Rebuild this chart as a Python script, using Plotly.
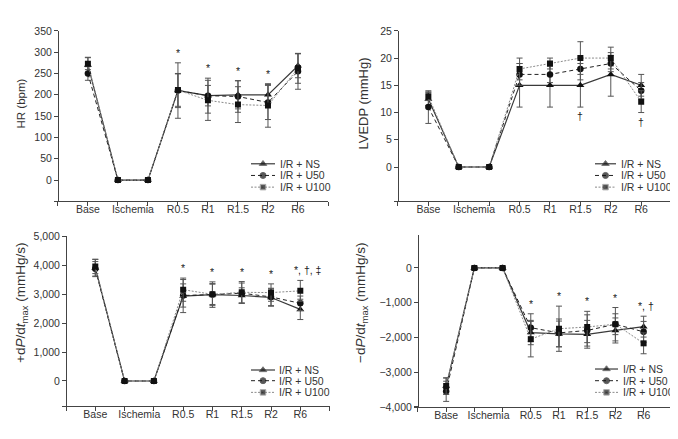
import plotly.graph_objects as go

# ---------------- data ----------------
phases = ["Base", "Ischemia", "Ischemia", "R0.5", "R1", "R1.5", "R2", "R6"]
groups = ["I/R + NS", "I/R + U50", "I/R + U100"]

hr_ns = [270, 0, 0, 210, 198, 200, 200, 268]
hr_ns_sd = [18, 0, 0, 40, 24, 33, 24, 28]
hr_u50 = [250, 0, 0, 210, 198, 196, 182, 255]
hr_u50_sd = [16, 0, 0, 65, 41, 37, 40, 42]
hr_u100 = [273, 0, 0, 211, 187, 177, 175, 262]
hr_u100_sd = [14, 0, 0, 38, 47, 42, 51, 35]
hr_sig = ["", "", "", "*", "*", "*", "*", ""]

lv_ns = [12.5, 0, 0, 15, 15, 15, 17, 15]
lv_ns_sd = [1.2, 0, 0, 4, 4, 4, 4, 2]
lv_u50 = [11, 0, 0, 17, 17, 18, 19, 14]
lv_u50_sd = [3, 0, 0, 2, 1.5, 2, 1.5, 1.5]
lv_u100 = [13, 0, 0, 18, 19, 20, 20, 12]
lv_u100_sd = [0.8, 0, 0, 2, 1, 3, 2, 2]
lv_sig_below = ["", "", "", "", "", "†", "", "†"]

pd_ns = [3900, 0, 0, 2930, 2980, 2950, 2880, 2470]
pd_ns_sd = [300, 0, 0, 570, 440, 265, 300, 350]
pd_u50 = [3870, 0, 0, 2950, 2980, 3030, 2900, 2680]
pd_u50_sd = [250, 0, 0, 400, 380, 350, 300, 250]
pd_u100 = [3950, 0, 0, 3150, 2990, 3060, 3050, 3110]
pd_u100_sd = [245, 0, 0, 400, 350, 370, 300, 360]
pd_sig = ["", "", "", "*", "*", "*", "*", "*, †, ‡"]

nd_ns = [-3400, 0, 0, -1860, -1900, -1910, -1800, -1690]
nd_ns_sd = [240, 0, 0, 350, 370, 400, 360, 300]
nd_u50 = [-3550, 0, 0, -1720, -1870, -1800, -1620, -1840]
nd_u50_sd = [290, 0, 0, 400, 400, 450, 480, 300]
nd_u100 = [-3400, 0, 0, -2050, -1750, -1700, -1620, -2170]
nd_u100_sd = [230, 0, 0, 510, 650, 450, 300, 300]
nd_sig = ["", "", "", "*", "*", "*", "*", "*, †"]

# ---------------- styles ----------------
FONT = "Arial, 'Liberation Sans', sans-serif"
TXT = "#333333"
AX = "#444444"
W, H = 678, 439

styles = [
    dict(line=dict(color="#3a3a3a", width=1.2, dash="solid"),
         marker=dict(symbol="triangle-up", size=7, color="#111111")),
    dict(line=dict(color="#222222", width=1, dash="4px,3px"),
         marker=dict(symbol="circle", size=6.5, color="#111111")),
    dict(line=dict(color="#8a8a8a", width=1, dash="2px,1.5px"),
         marker=dict(symbol="square", size=6, color="#111111")),
]

xs = [i + 1 for i in range(len(phases))]
uniq = []
for p in phases:
    if p not in uniq:
        uniq.append(p)
tick_pos = [sum(x for x, p in zip(xs, phases) if p == u) / phases.count(u) for u in uniq]

panels = [
    dict(series=[(hr_ns, hr_ns_sd), (hr_u50, hr_u50_sd), (hr_u100, hr_u100_sd)],
         title="HR (bpm)", tsize=11.5, px=(46, 320), origin=50, py=(17.3, 192.7),
         yrange=[-50, 350], yticks=list(range(0, 351, 50)),
         title_xy=(13, 92), above=hr_sig, below=None,
         leg=dict(x0=243, x1=267, tx=270, ys=[154, 166, 178])),
    dict(series=[(lv_ns, lv_ns_sd), (lv_u50, lv_u50_sd), (lv_u100, lv_u100_sd)],
         title="LVEDP (mmHg)", tsize=13, px=(386, 663.6), origin=390, py=(17.3, 192.7),
         yrange=[-6.32, 25], yticks=list(range(0, 26, 5)),
         title_xy=(355, 92), above=None, below=lv_sig_below,
         leg=dict(x0=587, x1=608, tx=611, ys=[154, 166, 178])),
    dict(series=[(pd_ns, pd_ns_sd), (pd_u50, pd_u50_sd), (pd_u100, pd_u100_sd)],
         title="+d<i>P</i>/d<i>t</i><sub>max</sub> (mmHg/s)", tsize=13.5,
         px=(54.2, 321.6), origin=58,
         py=(228.3, 403.3), yrange=[-872, 5000], yticks=list(range(0, 5001, 1000)),
         title_xy=(14, 297), above=pd_sig, below=None,
         leg=dict(x0=243, x1=267, tx=269, ys=[366, 377, 389])),
    dict(series=[(nd_ns, nd_ns_sd), (nd_u50, nd_u50_sd), (nd_u100, nd_u100_sd)],
         title="−d<i>P</i>/d<i>t</i><sub>max</sub> (mmHg/s)", tsize=13.5,
         px=(406.3, 663.8), origin=410,
         py=(227.3, 404), yrange=[-4000, 943], yticks=list(range(-4000, 1, 1000)),
         title_xy=(354, 297), above=nd_sig, below=None,
         leg=dict(x0=587, x1=610, tx=613, ys=[365, 377, 389])),
]

fig = go.Figure()
annotations = []
layout = {}

for k, pn in enumerate(panels, start=1):
    xa = "x" if k == 1 else f"x{k}"
    ya = "y" if k == 1 else f"y{k}"
    for (vals, sd), st, name in zip(pn["series"], styles, groups):
        fig.add_trace(go.Scatter(
            x=xs, y=vals, mode="lines+markers", name=name, showlegend=False,
            line=st["line"], marker=st["marker"],
            error_y=dict(type="data", array=sd, visible=True, color="#555555",
                         thickness=1, width=3),
            xaxis=xa, yaxis=ya))
    # significance marks
    tops = [max(v[i] + s[i] for v, s in pn["series"]) for i in range(len(xs))]
    bots = [min(v[i] - s[i] for v, s in pn["series"]) for i in range(len(xs))]
    if pn["above"]:
        for i, t in enumerate(pn["above"]):
            if not t:
                continue
            multi = len(t) > 1
            annotations.append(dict(
                x=xs[i], y=tops[i], xref=xa, yref=ya, text=t, showarrow=False,
                xanchor="left" if multi else "center", yanchor="bottom",
                xshift=-8 if multi else 0, yshift=2,
                font=dict(family=FONT, size=10.5, color="#222222")))
    if pn["below"]:
        for i, t in enumerate(pn["below"]):
            if not t:
                continue
            annotations.append(dict(
                x=xs[i], y=bots[i], xref=xa, yref=ya, text=t, showarrow=False,
                xanchor="center", yanchor="top", yshift=-1,
                font=dict(family=FONT, size=10.5, color="#222222")))
    # axes
    key_x = "xaxis" if k == 1 else f"xaxis{k}"
    key_y = "yaxis" if k == 1 else f"yaxis{k}"
    layout[key_x] = dict(
        domain=[pn["px"][0] / W, pn["px"][1] / W], range=[-0.13, 9],
        anchor=ya, showline=True, linecolor=AX, linewidth=1, showgrid=False,
        zeroline=False, tickmode="array", tickvals=tick_pos, ticktext=uniq,
        ticks="", ticklabelstandoff=-2,
        tickfont=dict(family=FONT, size=10.5, color=TXT),
        minor=dict(tickmode="array", tickvals=list(range(0, 10)), ticks="outside",
                   ticklen=4, tickcolor=AX, tickwidth=1, showgrid=False),
        fixedrange=True)
    layout[key_y] = dict(
        domain=[1 - pn["py"][1] / H, 1 - pn["py"][0] / H], range=pn["yrange"],
        anchor="free", position=pn["origin"] / W,
        showline=True, linecolor=AX, linewidth=1, showgrid=False, zeroline=False,
        tickmode="array", tickvals=pn["yticks"], ticks="outside", ticklen=4,
        tickcolor=AX, tickformat=",d",
        tickfont=dict(family=FONT, size=10.5, color=TXT), fixedrange=True)
    # y title
    annotations.append(dict(
        x=pn["title_xy"][0] / W, y=1 - pn["title_xy"][1] / H, xref="paper", yref="paper",
        text=pn["title"], textangle=-90, showarrow=False, xanchor="center",
        yanchor="middle", font=dict(family=FONT, size=pn["tsize"], color=TXT)))

# ---------------- legends (drawn on a pixel-scaled overlay axis) ----------------
layout["xaxis5"] = dict(domain=[0, 1], range=[0, W], anchor="y5", visible=False,
                        fixedrange=True)
layout["yaxis5"] = dict(domain=[0, 1], range=[H, 0], anchor="x5", visible=False,
                        fixedrange=True)
for pn in panels:
    lg = pn["leg"]
    for yy, st, name in zip(lg["ys"], styles, groups):
        xm = (lg["x0"] + lg["x1"]) / 2
        fig.add_trace(go.Scatter(
            x=[lg["x0"], xm, lg["x1"]], y=[yy, yy, yy], mode="lines+markers",
            showlegend=False, hoverinfo="skip", line=st["line"],
            marker=dict(symbol=st["marker"]["symbol"], color=st["marker"]["color"],
                        size=[0, st["marker"]["size"] - 0.5, 0]),
            xaxis="x5", yaxis="y5"))
        annotations.append(dict(
            x=lg["tx"], y=yy, xref="x5", yref="y5", text=name, showarrow=False,
            xanchor="left", yanchor="middle",
            font=dict(family=FONT, size=10.5, color=TXT)))

fig.update_layout(
    width=W, height=H, margin=dict(l=0, r=0, t=0, b=0),
    paper_bgcolor="white", plot_bgcolor="rgba(0,0,0,0)",
    showlegend=False, annotations=annotations, **layout)

fig.write_html("out.html")
